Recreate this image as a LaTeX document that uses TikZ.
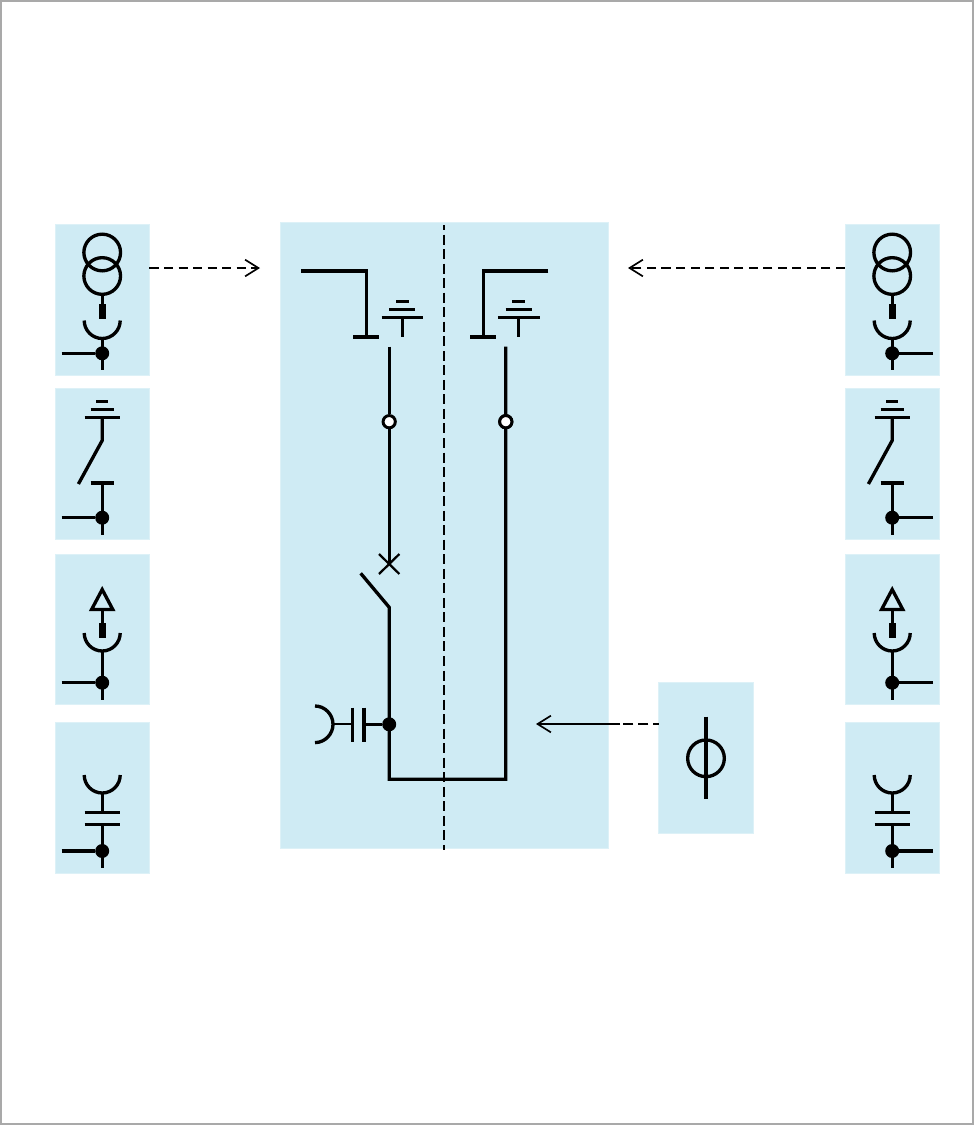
\documentclass[tikz,border=0pt]{standalone}
\usetikzlibrary{arrows.meta}
\definecolor{panelfill}{HTML}{CFEBF4}
\definecolor{paneledge}{HTML}{DDF1F7}
\definecolor{frameedge}{HTML}{A9A9A9}
\tikzset{
  x=.75pt,y=-.75pt,
  panel/.style={fill=panelfill,draw=paneledge,line width=.6pt,inner sep=0pt,outer sep=0pt,minimum width=70.9pt,minimum height=112.9pt},
  sym/.style={line width=2.5pt,draw=black,line cap=butt,line join=miter},
  ring/.style={circle,draw=black,line width=2.5pt,inner sep=0pt,minimum size=27.5pt},
  joint/.style={circle,fill=black,inner sep=0pt,minimum size=10.5pt},
  openjoint/.style={circle,draw=black,fill=white,line width=2.2pt,inner sep=0pt,minimum size=9.2pt},
  barb/.style={-{Straight Barb[length=10pt,width=12.5pt,line width=1.25pt]}},
  conn/.style={line width=1.25pt,draw=black,barb},
  axis/.style={line width=1.25pt,draw=black,dash pattern=on 7.5pt off 3.4pt,dash phase=3.75pt},
  flow/.style={line width=1.25pt,draw=black,dash pattern=on 6.8pt off 4.1pt},
  flowshort/.style={line width=1.25pt,draw=black,dash pattern=on 7.9pt off 3.3pt,dash phase=3.4pt},
}
\newcommand{\cupdown}[2]{\draw[sym] (#1-18,#2) .. controls +(0,9.9) and +(-9.9,0) .. (#1,#2+18) .. controls +(9.9,0) and +(0,9.9) .. (#1+18,#2);}
\newcommand{\plug}[2]{\fill (#1-3.4,#2) rectangle (#1+3.4,#2+15);}
\begin{document}
\begin{tikzpicture}
\useasboundingbox (0,0) rectangle (974,1125);
\draw[frameedge,line width=1.5pt] (1,1) rectangle (973,1124);
% panels
\node[panel] (L1) at (102.2,299.7) {};
\node[panel] (L2) at (102.2,464) {};
\node[panel] (L3) at (102.2,629.2) {};
\node[panel] (L4) at (102.2,797.7) {};
\node[panel] (R1) at (892.2,299.7) {};
\node[panel] (R2) at (892.2,464) {};
\node[panel] (R3) at (892.2,629.2) {};
\node[panel] (R4) at (892.2,797.7) {};
\node[panel,minimum width=246pt,minimum height=469.5pt] (M) at (444.2,535) {};
\node[panel] (V) at (706,757.7) {};
% side symbols
\foreach \cx/\hx/\t in {102.2/61.7/L,892.2/933/R}{
  \node[ring] at (\cx,252.5) {};
  \node[ring] at (\cx,276) {};
  \draw[sym] (\cx,295) -- (\cx,306);
  \plug{\cx}{304.3}
  \cupdown{\cx}{320.5}
  \draw[sym] (\cx,338.5) -- (\cx,370);
  \node[joint] (ja\t) at (\cx,353.3) {};
  \draw[sym] (\hx,353.3) -- (ja\t);
  % earthing switch
  \draw[sym] (\cx-5.8,401.7) -- (\cx+5.8,401.7);
  \draw[sym] (\cx-11.5,409.5) -- (\cx+11.5,409.5);
  \draw[sym] (\cx-17.5,417.3) -- (\cx+17.5,417.3);
  \draw[sym] (\cx,417.3) -- (\cx,440.5) -- (\cx-23.8,484);
  \draw[sym] (\cx-11.5,483) -- (\cx+11.5,483);
  \draw[sym] (\cx,483) -- (\cx,535);
  \node[joint] (jb\t) at (\cx,517.7) {};
  \draw[sym] (\hx,517.7) -- (jb\t);
  % surge arrester
  \draw[sym] (\cx,589.5) -- (\cx+10.6,609.5) -- (\cx-10.6,609.5) -- cycle;
  \draw[sym] (\cx,610) -- (\cx,624);
  \plug{\cx}{623}
  \cupdown{\cx}{633}
  \draw[sym] (\cx,651) -- (\cx,700);
  \node[joint] (jc\t) at (\cx,682.7) {};
  \draw[sym] (\hx,682.7) -- (jc\t);
  % capacitor
  \cupdown{\cx}{775}
  \draw[sym] (\cx,793) -- (\cx,812.3);
  \draw[sym] (\cx-17.5,812.3) -- (\cx+17.5,812.3);
  \draw[sym] (\cx-17.5,824.3) -- (\cx+17.5,824.3);
  \draw[sym] (\cx,824.3) -- (\cx,868);
  \node[joint] (jd\t) at (\cx,851) {};
  \draw[sym] (\hx,851) -- (jd\t);
}
% centre axis
\coordinate (axT) at (444.3,225);
\coordinate (axB) at (444.3,850);
% main circuit
\draw[sym] (301,271) -- (366.8,271) -- (366.8,337);
\draw[sym] (353.3,337) -- (379.3,337);
\draw[sym] (548.3,271) -- (483.3,271) -- (483.3,337);
\draw[sym] (470,337) -- (496,337);
\foreach \ex in {402.3,518.7}{
  \draw[sym] (\ex-6.3,301.7) -- (\ex+6.3,301.7);
  \draw[sym] (\ex-13,309.6) -- (\ex+13,309.6);
  \draw[sym] (\ex-20.8,317.3) -- (\ex+20.8,317.3);
  \draw[sym] (\ex,317.3) -- (\ex,337);
}
\node[openjoint] (oL) at (389.2,421.7) {};
\node[openjoint] (oR) at (505.8,421.7) {};
\coordinate (cb) at (389.2,564);
\draw[sym] (389.2,346.7) -- (oL) -- (cb);
\draw[line width=1.7pt] (379,554) -- (399.4,574);
\draw[line width=1.7pt] (399.4,554) -- (379,574);
\node[joint] (jm) at (389.2,724.3) {};
\draw[sym] (360.7,573.3) -- (389.2,607.3) -- (389.2,779.3) -- (505.8,779.3) -- (505.8,346.7);
\node[openjoint] at (oR) {};
% capacitor on the main circuit
\draw[sym] (jm) -- (364,724.3);
\draw[sym] (364,707.7) -- (364,741.7);
\draw[sym] (352.3,707.7) -- (352.3,741.7);
\draw[line width=1.7pt] (352.3,724.3) -- (333,724.3);
\draw[sym] (315,706) .. controls +(9.9,0) and +(0,-9.9) .. (333,724.3) .. controls +(0,9.9) and +(9.9,0) .. (315,742.6);
\draw[axis] (axT) -- (axB);
% voltage symbol
\node[ring] at (706,758.3) {};
\draw[sym] (706,716.7) -- (706,798.7);
% connectors
\coordinate (tL) at (260,268);
\coordinate (tR) at (628,268);
\coordinate (tV) at (536,724);
\coordinate (bV) at (620,724);
\draw[flow,barb] (L1.east |- tL) -- (tL);
\draw[flow,barb] (R1.west |- tR) -- (tR);
\draw[conn] (bV) -- (tV);
\draw[flowshort] (V.west |- bV) -- (bV);
\end{tikzpicture}
\end{document}
